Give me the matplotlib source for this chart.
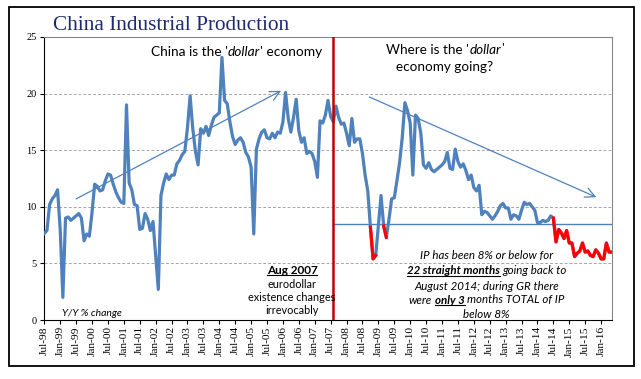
import matplotlib
matplotlib.use("Agg")
import matplotlib.pyplot as plt
import numpy as np
import pandas as pd
from matplotlib.transforms import IdentityTransform
from matplotlib.lines import Line2D
from matplotlib.patches import Rectangle

# ---------------- data (Y/Y % change, monthly, Jul-1998 .. May-2016) ----------------
start_month = "1998-07"
ip_1998 = [7.65, 7.9, 10.2, 10.7, 11.0, 11.5]
ip_1999 = [8.0, 2.0, 9.0, 9.1, 8.8, 9.0, 9.2, 9.4, 9.0, 7.0, 7.6, 7.4]
ip_2000 = [9.5, 12.0, 11.8, 11.4, 11.5, 12.3, 12.9, 12.8, 12.0, 11.3, 10.8, 10.4]
ip_2001 = [10.3, 19.0, 12.1, 11.5, 10.2, 10.1, 8.0, 8.1, 9.4, 8.9, 7.9, 8.7]
ip_2002 = [5.7, 2.7, 11.0, 12.1, 12.9, 12.4, 12.8, 12.8, 13.8, 14.1, 14.6, 14.9]
ip_2003 = [17.0, 19.8, 16.9, 14.9, 13.7, 16.9, 16.5, 17.1, 16.3, 17.2, 17.9, 18.1]
ip_2004 = [18.3, 23.2, 19.4, 19.1, 17.5, 16.2, 15.5, 15.9, 16.1, 15.7, 14.8, 14.4]
ip_2005 = [13.5, 7.6, 15.1, 16.0, 16.6, 16.8, 16.1, 16.0, 16.5, 16.1, 16.6, 16.5]
ip_2006 = [17.5, 20.1, 17.8, 16.6, 17.9, 19.5, 16.7, 15.7, 16.1, 14.7, 14.9, 14.7]
ip_2007 = [14.0, 12.6, 17.6, 17.4, 18.1, 19.4, 18.0, 17.5, 18.9, 17.9, 17.3, 17.4]
ip_2008 = [16.5, 15.4, 17.8, 15.7, 16.0, 16.0, 14.7, 12.8, 11.4, 8.2, 5.4, 5.7]
ip_2009 = [8.3, 11.0, 8.3, 7.3, 8.9, 10.7, 10.8, 12.3, 13.9, 16.1, 19.2, 18.5]
ip_2010 = [17.4, 12.8, 18.1, 17.8, 16.5, 13.7, 13.4, 13.9, 13.3, 13.1, 13.3, 13.5]
ip_2011 = [13.7, 14.0, 14.8, 13.4, 13.3, 15.1, 14.0, 13.5, 13.8, 13.2, 12.4, 12.8]
ip_2012 = [11.7, 11.4, 11.9, 9.3, 9.6, 9.5, 9.2, 8.9, 9.2, 9.6, 10.1, 10.3]
ip_2013 = [9.9, 9.9, 8.9, 9.3, 9.2, 8.9, 9.7, 10.4, 10.2, 10.3, 10.0, 9.7]
ip_2014 = [8.6, 8.6, 8.8, 8.7, 8.8, 9.2, 9.0, 6.9, 8.0, 7.7, 7.2, 7.9]
ip_2015 = [6.8, 6.8, 5.6, 5.9, 6.1, 6.8, 6.0, 6.1, 5.7, 5.6, 6.2, 5.9]
ip_2016 = [5.4, 5.4, 6.8, 6.0, 6.0]

threshold = 8.0          # "8% or below" highlighted in red
red_from = "2007-08"     # highlighting applies after the eurodollar break
break_month = "2007-08"  # Aug 2007 vertical line
ref_level = 8.5          # horizontal reference line
y_ticks = [0, 5, 10, 15, 20, 25]

values = np.array(ip_1998 + ip_1999 + ip_2000 + ip_2001 + ip_2002 + ip_2003 +
                  ip_2004 + ip_2005 + ip_2006 + ip_2007 + ip_2008 + ip_2009 +
                  ip_2010 + ip_2011 + ip_2012 + ip_2013 + ip_2014 + ip_2015 +
                  ip_2016)
dates = pd.date_range(start_month, periods=len(values), freq="MS")
x = np.arange(len(values))
break_idx = int(np.where(dates == pd.Timestamp(break_month))[0][0])
red_idx = int(np.where(dates == pd.Timestamp(red_from))[0][0])

# red segments: segment i -> i+1 red when the later value <= threshold
seg_red = np.zeros(len(values) - 1, dtype=bool)
for i in range(len(values) - 1):
    seg_red[i] = (i + 1 >= red_idx) and (values[i + 1] <= threshold)
red_vals = np.full(len(values), np.nan)
for i, r in enumerate(seg_red):
    if r:
        red_vals[i] = values[i]
        red_vals[i + 1] = values[i + 1]

tick_pos = x[::6]
tick_lab = [d.strftime("%b-%y") for d in dates[::6]]

# ---------------- figure ----------------
W, H = 641, 379
fig = plt.figure(figsize=(W / 100, H / 100), dpi=100)
fig.patch.set_facecolor("white")
ax = fig.add_axes([44.3 / W, 1 - 320 / H, (611.7 - 44.3) / W, (320 - 37) / H])

BLUE = "#4F81BD"
SANS = "Lato"
SERIF = "Liberation Serif"

ax.plot(x, values, color=BLUE, lw=2.3, solid_joinstyle="round", zorder=3)
ax.plot(x, red_vals, color="#FF0000", lw=2.3, solid_joinstyle="round", zorder=4)

ax.set_xlim(0, len(values) - 1)
ax.set_ylim(0, 25)
ax.set_yticks(y_ticks)
ax.set_yticklabels([str(v) for v in y_ticks], fontfamily=SERIF, fontsize=7.5)
ax.set_xticks(tick_pos)
ax.set_xticklabels(tick_lab, rotation=90, fontfamily=SERIF, fontsize=8.2)
ax.tick_params(axis="x", length=3, width=0.8, pad=1.5, direction="out")
ax.tick_params(axis="y", length=3, width=0.8, pad=2.5, direction="out")

for v in y_ticks[1:-1]:
    ax.axhline(v, color="#A6A6A6", lw=0.7, ls=(0, (3, 2)), zorder=1)

for s in ["top", "right"]:
    ax.spines[s].set_color("#868686")
    ax.spines[s].set_linewidth(0.8)
for s in ["left", "bottom"]:
    ax.spines[s].set_color("black")
    ax.spines[s].set_linewidth(0.8)

# Aug 2007 break
ax.axvline(break_idx, color="#C00000", lw=1.8, zorder=5)
# reference level
ax.plot([break_idx, x[-1]], [ref_level, ref_level], color=BLUE, lw=1.0, zorder=2)

# trend arrows
ax.annotate("", xy=(89.3, 20.25), xytext=(12.0, 10.7),
            arrowprops=dict(arrowstyle="->,head_length=0.7,head_width=0.35",
                            color=BLUE, lw=0.9, shrinkA=0, shrinkB=0), zorder=2)
ax.annotate("", xy=(208.2, 10.85), xytext=(122.6, 19.7),
            arrowprops=dict(arrowstyle="->,head_length=0.7,head_width=0.35",
                            color=BLUE, lw=0.9, shrinkA=0, shrinkB=0), zorder=2)

# outer frame
fig.add_artist(Rectangle((9.3 / W, 1 - 366 / H), (634 - 9.3) / W, (366 - 7.3) / H,
                         transform=fig.transFigure, fill=False, ec="black", lw=1.3))

# title
fig.text(53 / W, 1 - 30 / H, "China Industrial Production", fontfamily=SERIF,
         fontsize=15.3, color="#1F2A6E", ha="left", va="baseline")

# ---------------- rich text helper (display pixel coords) ----------------
fig.canvas.draw()
renderer = fig.canvas.get_renderer()


def _mk(txt, it, bd, size):
    return fig.text(0, 0, txt, transform=IdentityTransform(), fontsize=size,
                    fontfamily=SANS, fontstyle="italic" if it else "normal",
                    fontweight="bold" if bd else "normal", ha="left",
                    va="baseline", color="black", zorder=6)


def _w(t):
    return t.get_window_extent(renderer).width


def rich_line(xc_px, ytop_px, segs, size):
    """segs: list of (text, italic, bold, underline); ytop_px = baseline from top."""
    items = []
    for txt, it, bd, ul in segs:
        t = _mk(txt.strip(), it, bd, size)
        a = _mk("n n", it, bd, size)
        b = _mk("nn", it, bd, size)
        sp = _w(a) - _w(b)
        a.remove(); b.remove()
        items.append((t, txt.startswith(" "), txt.endswith(" "), ul, sp, _w(t)))
    total = 0
    for t, lead, trail, ul, sp, w in items:
        total += w + (sp if lead else 0) + (sp if trail else 0)
    xx = xc_px - total / 2
    yb = H - ytop_px
    for t, lead, trail, ul, sp, w in items:
        if lead:
            xx += sp
        t.set_position((xx, yb))
        if ul:
            fig.add_artist(Line2D([xx, xx + w], [yb - 1.6, yb - 1.6],
                                  transform=IdentityTransform(), color="black",
                                  lw=0.8, zorder=6))
        xx += w
        if trail:
            xx += sp


rich_line(236.5, 56, [("China is the '", 0, 0, 0), ("dollar", 1, 0, 0),
                      ("' economy", 0, 0, 0)], 9.9)
rich_line(445, 53.5, [("Where is the '", 0, 0, 0), ("dollar", 1, 0, 0), ("'", 0, 0, 0)], 9.7)
rich_line(445, 71, [("economy going?", 0, 0, 0)], 9.7)

rich_line(292, 273.5, [("Aug 2007", 0, 1, 1)], 8.5)
rich_line(292, 287.5, [("eurodollar", 0, 0, 0)], 7.8)
rich_line(292, 301, [("existence changes", 0, 0, 0)], 7.8)
rich_line(292, 314.5, [("irrevocably", 0, 0, 0)], 7.8)

rich_line(92, 316, [("Y/Y % change", 1, 0, 0)], 7.5)

bx = 486.7
rich_line(bx, 259.5, [("IP has been 8% or below for", 1, 0, 0)], 8.3)
rich_line(bx, 274.2, [("22 straight months", 1, 1, 1), (" going back to", 1, 0, 0)], 8.3)
rich_line(bx, 289.5, [("August 2014; during GR there", 1, 0, 0)], 8.3)
rich_line(bx, 303.5, [("were ", 1, 0, 0), ("only 3", 1, 1, 1),
                      (" months TOTAL of IP", 1, 0, 0)], 8.3)
rich_line(bx, 318.5, [("below 8%", 1, 0, 0)], 8.3)

fig.savefig("out.png", dpi=100, facecolor="white")
